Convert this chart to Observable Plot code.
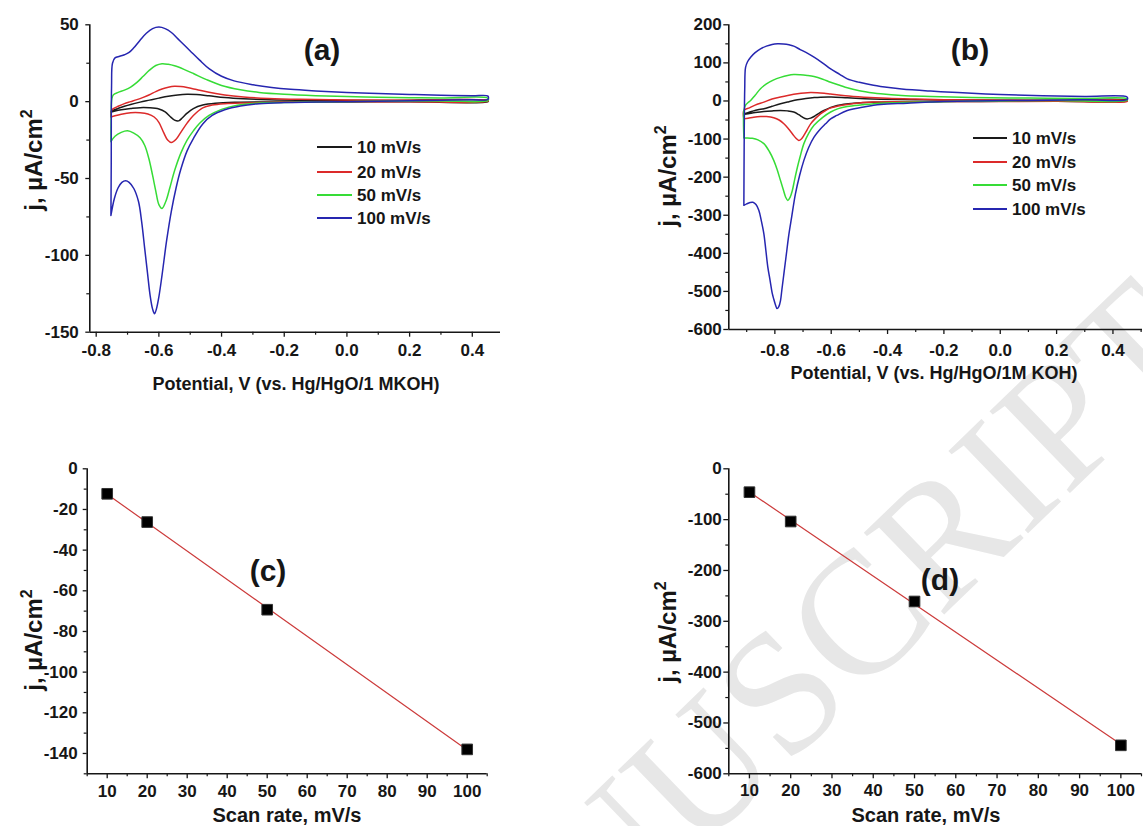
<!DOCTYPE html>
<html>
<head>
<meta charset="utf-8">
<script src="https://cdn.jsdelivr.net/npm/d3@7"></script>
<script src="https://cdn.jsdelivr.net/npm/@observablehq/plot@0.6"></script>
<style>
  body { margin: 0; background: #fff; }
  #fig { position: relative; width: 1143px; height: 826px; overflow: hidden; background: #fff;
         font-family: "Liberation Sans", Arial, sans-serif; }
  #fig svg { position: absolute; left: 0; top: 0; }
</style>
</head>
<body>
<div id="fig"></div>
<script>
// ---------- data ----------
// Cyclic voltammograms, electrode A (potential V, current density µA/cm²), loop order:
// left vertex -> anodic sweep -> right vertex -> cathodic sweep -> left vertex
const scanLabels = ["10 mV/s", "20 mV/s", "50 mV/s", "100 mV/s"];
const scanColors = ["#1a1a1a", "#dc2a2a", "#36dc36", "#2626b0"];

const cvA10 = [[-0.753,-6.8],[-0.745,-5.5],[-0.73,-4.4],[-0.71,-3],[-0.69,-1.8],[-0.66,-0.3],[-0.63,1],[-0.60,2.3],[-0.57,3.5],[-0.54,4.4],[-0.51,4.8],[-0.48,4.6],[-0.44,3.8],[-0.39,2.7],[-0.33,1.9],[-0.25,1.3],[-0.1,0.9],[0.1,0.7],[0.45,0.6],
  [0.45,0],[0.2,-0.1],[0.0,-0.15],[-0.2,-0.2],[-0.35,-0.4],[-0.42,-1],[-0.46,-2.2],[-0.49,-4.5],[-0.51,-7.5],[-0.525,-10.5],[-0.537,-12.5],[-0.55,-12],[-0.565,-9.5],[-0.58,-6.6],[-0.60,-4.8],[-0.63,-4],[-0.66,-3.9],[-0.69,-4.5],[-0.72,-5.3],[-0.74,-6.1],[-0.753,-6.8]];
const cvA20 = [[-0.753,-10],[-0.752,-6],[-0.745,-4.5],[-0.73,-3],[-0.71,-1.3],[-0.69,0],[-0.67,1.3],[-0.65,2.8],[-0.63,4.5],[-0.61,6.5],[-0.59,8.2],[-0.57,9.4],[-0.55,10],[-0.53,9.8],[-0.51,9.2],[-0.48,7.9],[-0.44,6.1],[-0.39,4.4],[-0.33,3.1],[-0.25,2.1],[-0.15,1.5],[0.0,1.1],[0.2,0.9],[0.45,0.8],
  [0.45,0.2],[0.2,0],[0.0,-0.1],[-0.2,-0.3],[-0.32,-0.8],[-0.39,-1.3],[-0.43,-2.2],[-0.46,-4],[-0.49,-9],[-0.51,-14],[-0.53,-20],[-0.545,-24.5],[-0.56,-26.6],[-0.572,-25],[-0.585,-20],[-0.60,-13.5],[-0.615,-10],[-0.635,-8],[-0.66,-7.2],[-0.69,-7.2],[-0.72,-8.2],[-0.74,-9.2],[-0.753,-10]];
const cvA50 = [[-0.753,-26],[-0.752,-10],[-0.75,2],[-0.745,4.5],[-0.73,6],[-0.71,7.5],[-0.69,9.5],[-0.67,12.5],[-0.65,16.5],[-0.63,20.5],[-0.61,23.5],[-0.59,24.7],[-0.57,24.3],[-0.55,23.3],[-0.52,21],[-0.49,18.3],[-0.45,14.5],[-0.40,10.5],[-0.34,7.7],[-0.28,6],[-0.2,4.8],[-0.1,3.9],[0.0,3.3],[0.1,2.9],[0.2,2.6],[0.3,2.4],[0.45,2.2],
  [0.45,0.8],[0.3,0.5],[0.1,0.2],[0.0,0],[-0.1,-0.2],[-0.2,-0.5],[-0.29,-1],[-0.35,-2.3],[-0.40,-5],[-0.44,-9],[-0.47,-14],[-0.49,-19],[-0.51,-25],[-0.53,-33.5],[-0.55,-45],[-0.565,-56],[-0.578,-65],[-0.59,-69.5],[-0.60,-67],[-0.61,-58],[-0.62,-48],[-0.632,-37],[-0.645,-28.5],[-0.66,-23.5],[-0.68,-20.5],[-0.70,-19],[-0.72,-20],[-0.74,-22.5],[-0.753,-26]];
const cvA100 = [[-0.753,-74],[-0.752,-40],[-0.751,10],[-0.748,25],[-0.74,28.5],[-0.725,29.5],[-0.71,30.5],[-0.695,32],[-0.68,35],[-0.66,40],[-0.64,44.5],[-0.62,47.5],[-0.60,48.5],[-0.58,47.5],[-0.56,45],[-0.54,41],[-0.52,37],[-0.50,33],[-0.47,27],[-0.44,21.5],[-0.40,16.5],[-0.36,13.5],[-0.30,11],[-0.24,9.2],[-0.18,8],[-0.10,7],[0.0,6],[0.1,5.3],[0.2,4.7],[0.3,4.2],[0.4,3.8],[0.45,3.6],
  [0.45,1.5],[0.4,1.2],[0.3,0.9],[0.2,0.6],[0.1,0.3],[0.0,0],[-0.1,-0.3],[-0.2,-0.6],[-0.28,-1.3],[-0.34,-2.8],[-0.39,-5.3],[-0.43,-9],[-0.46,-14.5],[-0.49,-24],[-0.51,-32],[-0.53,-44],[-0.545,-56],[-0.56,-71],[-0.575,-90],[-0.59,-113],[-0.60,-127],[-0.608,-135],[-0.614,-138],[-0.62,-135],[-0.628,-126],[-0.636,-112],[-0.645,-96],[-0.655,-78],[-0.665,-65],[-0.68,-56.5],[-0.695,-52.5],[-0.706,-51.5],[-0.718,-52.5],[-0.73,-56],[-0.742,-63],[-0.753,-74]];

// Cyclic voltammograms, electrode B
const cvB10 = [[-0.91,-35],[-0.905,-33],[-0.88,-27],[-0.86,-23],[-0.839,-20.6],[-0.81,-14],[-0.78,-7.4],[-0.75,-2],[-0.72,3],[-0.69,6.5],[-0.66,9],[-0.638,10],[-0.6,10.3],[-0.543,8.3],[-0.48,6],[-0.425,4.8],[-0.3,3.3],[-0.1,2.5],[0.2,2],[0.45,2],
  [0.45,0],[0.2,-0.5],[0.0,-1],[-0.2,-1.5],[-0.35,-2.5],[-0.45,-3.5],[-0.52,-6],[-0.579,-11.8],[-0.605,-18],[-0.626,-25],[-0.645,-33],[-0.661,-40.7],[-0.673,-45],[-0.685,-47],[-0.695,-45.5],[-0.703,-42],[-0.715,-36],[-0.733,-29],[-0.755,-26],[-0.78,-25],[-0.81,-26],[-0.839,-27.6],[-0.87,-30.5],[-0.895,-33.5],[-0.91,-35]];
const cvB20 = [[-0.91,-47],[-0.91,-25],[-0.89,-18],[-0.87,-11],[-0.839,-3],[-0.81,5],[-0.78,10.5],[-0.75,15],[-0.72,18.8],[-0.695,21],[-0.673,22],[-0.65,21.5],[-0.625,20],[-0.602,18],[-0.55,13.5],[-0.484,10],[-0.40,7],[-0.3,5],[-0.2,3.5],[0.0,2],[0.2,1.3],[0.45,1],
  [0.45,-1],[0.2,-1],[0.0,-1.2],[-0.2,-1.5],[-0.35,-2],[-0.45,-3],[-0.5,-5],[-0.543,-9],[-0.575,-13],[-0.602,-18],[-0.62,-25],[-0.638,-33.7],[-0.655,-45],[-0.673,-60],[-0.685,-75],[-0.697,-90.5],[-0.706,-100],[-0.715,-103.7],[-0.725,-98],[-0.738,-86],[-0.752,-73],[-0.768,-60],[-0.785,-50],[-0.804,-44],[-0.83,-41],[-0.851,-40.7],[-0.875,-42.5],[-0.895,-45.5],[-0.91,-47]];
const cvB50 = [[-0.91,-97],[-0.91,-25],[-0.905,-12],[-0.895,-4],[-0.886,1.3],[-0.87,15],[-0.851,32],[-0.83,45],[-0.804,55.5],[-0.78,62],[-0.755,67],[-0.733,69.5],[-0.71,69],[-0.685,67],[-0.661,64],[-0.63,57],[-0.602,49],[-0.57,41.5],[-0.543,34.6],[-0.50,27],[-0.45,21],[-0.425,18.8],[-0.35,14.5],[-0.247,11.8],[-0.1,9],[0.1,7.5],[0.3,6.5],[0.45,6],
  [0.45,2],[0.2,1],[0.0,0],[-0.15,-1],[-0.25,-2.5],[-0.35,-4],[-0.425,-5.7],[-0.49,-10],[-0.543,-14.4],[-0.575,-20],[-0.602,-29],[-0.63,-43],[-0.661,-64],[-0.68,-85],[-0.697,-112],[-0.71,-145],[-0.72,-174],[-0.73,-207],[-0.738,-235],[-0.746,-253],[-0.754,-261],[-0.762,-252],[-0.77,-233],[-0.78,-209],[-0.792,-180],[-0.804,-156],[-0.82,-132],[-0.839,-112],[-0.86,-102],[-0.88,-98],[-0.90,-97],[-0.91,-97]];
const cvB100 = [[-0.91,-274],[-0.909,-120],[-0.907,30],[-0.904,88],[-0.897,103],[-0.886,115],[-0.87,127],[-0.851,137],[-0.83,144],[-0.81,148.5],[-0.79,150],[-0.77,149.5],[-0.75,147.5],[-0.733,144],[-0.71,135],[-0.685,125.5],[-0.661,115],[-0.63,99.5],[-0.602,84],[-0.57,70],[-0.543,58],[-0.50,49],[-0.45,41],[-0.425,38],[-0.35,31.5],[-0.247,26],[-0.15,22],[0.0,17],[0.15,14],[0.3,12],[0.45,10.5],
  [0.45,4],[0.3,3],[0.1,1.5],[-0.1,0],[-0.2,-1.5],[-0.25,-3],[-0.33,-6],[-0.425,-9],[-0.48,-15],[-0.543,-25],[-0.58,-38],[-0.602,-47],[-0.62,-60],[-0.64,-75],[-0.661,-95],[-0.68,-122],[-0.697,-156],[-0.712,-195],[-0.727,-244],[-0.74,-303],[-0.75,-349],[-0.76,-407],[-0.768,-454],[-0.775,-495],[-0.78,-524],[-0.786,-540],[-0.792,-545],[-0.798,-535],[-0.804,-520],[-0.809,-506],[-0.817,-471],[-0.825,-436],[-0.832,-392],[-0.839,-349],[-0.848,-315],[-0.857,-287],[-0.867,-272],[-0.878,-266],[-0.888,-266.5],[-0.90,-270],[-0.91,-274]];

// Cathodic peak current density vs scan rate
const scanRates = [10, 20, 50, 100];
const peakA = [-12.3, -26.2, -69.3, -138];
const peakB = [-46, -103.7, -261, -544];

// Axis ticks
const ticksCvX = [-0.8, -0.6, -0.4, -0.2, 0.0, 0.2, 0.4];
const minorCvAX = [-0.7, -0.5, -0.3, -0.1, 0.1, 0.3];
const minorCvBX = [-0.9, -0.7, -0.5, -0.3, -0.1, 0.1, 0.3, 0.5];
const ticksAY = [50, 0, -50, -100, -150];
const minorAY = [25, -25, -75, -125];
const ticksBY = [200, 100, 0, -100, -200, -300, -400, -500, -600];
const minorBY = [150, 50, -50, -150, -250, -350, -450, -550];
const ticksRateX = [10, 20, 30, 40, 50, 60, 70, 80, 90, 100];
const minorRateX = [5, 15, 25, 35, 45, 55, 65, 75, 85, 95, 105];
const ticksCY = [0, -20, -40, -60, -80, -100, -120, -140];
const minorCY = [-10, -30, -50, -70, -90, -110, -130, -150];
const ticksDY = [0, -100, -200, -300, -400, -500, -600];
const minorDY = [-50, -150, -250, -350, -450, -550];

// ---------- layout ----------
const W = 1143, H = 826;
const fig = document.getElementById("fig");
const FONT = '"Liberation Sans", Arial, sans-serif';
const INK = "#161616";

const fmt1 = d => d.toFixed(1);
const fmt0 = d => String(d);

// background watermark
const wm = d3.select(fig).append("svg").attr("width", W).attr("height", H);
wm.append("text")
  .attr("transform", "translate(401,1139) rotate(-44)")
  .attr("font-family", '"Liberation Serif", "DejaVu Serif", serif')
  .attr("font-size", 175)
  .attr("fill", "#e7e7e7")
  .text("MANUSCRIPT");

const tickText = {fontSize: 17, fontWeight: "bold", fontFamily: FONT, fill: INK};

function panel(o) {
  const marks = [
    Plot.axisY({ticks: o.yMinor, tickSize: 3, tickFormat: () => "", stroke: INK, strokeWidth: 1.2, label: null}),
    Plot.axisY({ticks: o.yMajor, tickSize: o.yTick, tickPadding: o.yPad, tickFormat: o.yFmt, stroke: INK, strokeWidth: 1.3, label: null, ...tickText}),
    Plot.axisX({ticks: o.xMinor, tickSize: 3, tickFormat: () => "", stroke: INK, strokeWidth: 1.2, label: null}),
    Plot.axisX({ticks: o.xMajor, tickSize: 5, tickPadding: o.xPad, tickFormat: o.xFmt, stroke: INK, strokeWidth: 1.3, label: null, ...tickText}),
    Plot.ruleX([o.xDomain[0]], {stroke: INK, strokeWidth: 1.6}),
    Plot.ruleY([o.yDomain[0]], {stroke: INK, strokeWidth: 1.6}),
    ...o.marks
  ];
  const svg = Plot.plot({
    width: W, height: H,
    marginLeft: o.left, marginRight: W - o.right,
    marginTop: o.top, marginBottom: H - o.bottom,
    x: {domain: o.xDomain, label: null},
    y: {domain: o.yDomain, label: null},
    style: {background: "transparent", overflow: "visible", fontFamily: FONT,
            fontSize: "17px", fontWeight: "bold", color: INK},
    marks
  });
  fig.appendChild(svg);
}

const cvLine = (data, i) => Plot.line(data, {x: d => d[0], y: d => d[1], stroke: scanColors[i], strokeWidth: 1.5, curve: "catmull-rom"});

// (a) electrode A voltammograms
panel({
  left: 89.3, right: 500, top: 24.3, bottom: 331.7,
  xDomain: [-0.8204, 0.49], yDomain: [-150, 50],
  xMajor: ticksCvX, xMinor: minorCvAX, yMajor: ticksAY, yMinor: minorAY,
  xFmt: fmt1, yFmt: fmt0, yTick: 4, yPad: 7, xPad: 6.5,
  marks: [cvA10, cvA20, cvA50, cvA100].map(cvLine)
});

// (b) electrode B voltammograms
panel({
  left: 728.3, right: 1142, top: 24.3, bottom: 329,
  xDomain: [-0.9635, 0.5049], yDomain: [-600, 200],
  xMajor: ticksCvX, xMinor: minorCvBX, yMajor: ticksBY, yMinor: minorBY,
  xFmt: fmt1, yFmt: fmt0, yTick: 5, yPad: 2, xPad: 9,
  marks: [cvB10, cvB20, cvB50, cvB100].map(cvLine)
});

const rateTable = (peaks) => scanRates.map((r, i) => ({rate: r, j: peaks[i]}));
const rateMarks = (peaks) => [
  Plot.linearRegressionY(rateTable(peaks), {x: "rate", y: "j", stroke: "#cc3b3b", strokeWidth: 1.2, ci: 0}),
  Plot.dot(rateTable(peaks), {x: "rate", y: "j", symbol: "square", r: 6, fill: "#000", stroke: "#333", strokeWidth: 1})
];

// (c) peak current vs scan rate, electrode A
panel({
  left: 86.7, right: 486.7, top: 468.3, bottom: 773.3,
  xDomain: [5, 105], yDomain: [-150, 0],
  xMajor: ticksRateX, xMinor: minorRateX, yMajor: ticksCY, yMinor: minorCY,
  xFmt: fmt0, yFmt: fmt0, yTick: 4, yPad: 5.5, xPad: 6.5,
  marks: rateMarks(peakA)
});

// (d) peak current vs scan rate, electrode B
panel({
  left: 728.3, right: 1141, top: 468.3, bottom: 773.3,
  xDomain: [5, 105], yDomain: [-600, 0],
  xMajor: ticksRateX, xMinor: minorRateX, yMajor: ticksDY, yMinor: minorDY,
  xFmt: fmt0, yFmt: fmt0, yTick: 5, yPad: 2, xPad: 5,
  marks: rateMarks(peakB)
});

// ---------- titles, panel tags and legends ----------
const ov = d3.select(fig).append("svg").attr("width", W).attr("height", H)
  .attr("font-family", FONT).attr("font-weight", "bold").attr("fill", INK);

function yTitle(x, y) {
  const t = ov.append("text").attr("transform", `translate(${x},${y}) rotate(-90)`)
    .attr("text-anchor", "middle").attr("font-size", 24);
  t.append("tspan").text("j, \u00b5A/cm");
  t.append("tspan").attr("font-size", 16).attr("dy", -10).text("2");
}
function xTitle(x, y, s, size) {
  ov.append("text").attr("x", x).attr("y", y).attr("text-anchor", "middle")
    .attr("font-size", size).text(s);
}
function tag(x, y, s) {
  ov.append("text").attr("x", x).attr("y", y).attr("text-anchor", "middle")
    .attr("font-size", 30).text(s);
}
function legend(x0, x1, rows) {
  rows.forEach((ry, i) => {
    ov.append("line").attr("x1", x0).attr("x2", x1).attr("y1", ry).attr("y2", ry)
      .attr("stroke", scanColors[i]).attr("stroke-width", 1.8);
    ov.append("text").attr("x", x1 + 5).attr("y", ry + 6).attr("font-size", 17).text(scanLabels[i]);
  });
}

yTitle(42, 160);
yTitle(676, 176);
yTitle(42, 640);
yTitle(676, 632);

xTitle(296, 389.5, "Potential, V (vs. Hg/HgO/1 MKOH)", 18);
xTitle(934, 378.5, "Potential, V (vs. Hg/HgO/1M KOH)", 18);
xTitle(287, 822, "Scan rate, mV/s", 20);
xTitle(926, 822, "Scan rate, mV/s", 20);

tag(322, 60, "(a)");
tag(970, 60, "(b)");
tag(268, 581, "(c)");
tag(940, 590, "(d)");

legend(317, 352, [147, 172, 195, 218]);
legend(973, 1007, [138, 162, 185, 209]);
</script>
</body>
</html>
